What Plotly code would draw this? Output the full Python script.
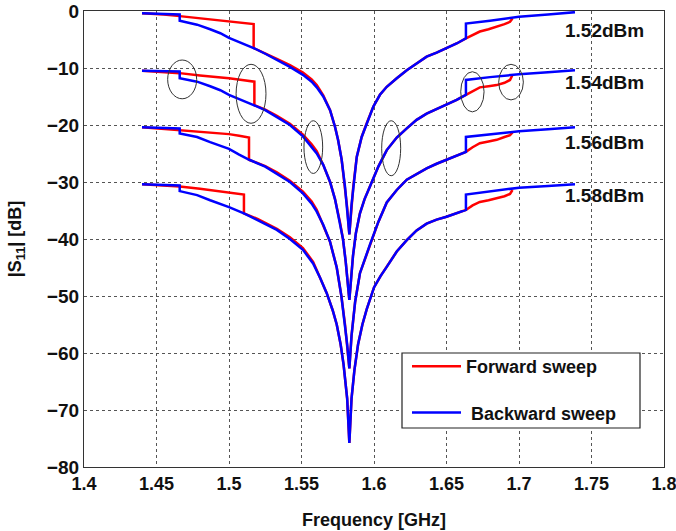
import plotly.graph_objects as go

# Sweep power levels (dBm) for the four measured curve pairs
power_labels = ["1.52dBm", "1.54dBm", "1.56dBm", "1.58dBm"]
label_y = [-3.5, -12.5, -23.1, -32.4]

# Backward sweep (blue) |S11|: frequency [GHz] and magnitude [dB]
bwd_f1 = [1.44, 1.455, 1.466, 1.466, 1.472, 1.478, 1.487, 1.494, 1.50, 1.509, 1.517, 1.525, 1.533, 1.542,
          1.551, 1.557, 1.5605, 1.565, 1.5697, 1.5731, 1.5752, 1.5777, 1.580, 1.5815, 1.583,
          1.5845, 1.5857, 1.5881, 1.5915, 1.595, 1.5995, 1.6041, 1.6088, 1.6157, 1.6226, 1.6294, 1.6363,
          1.6432, 1.65, 1.657, 1.6634, 1.6634, 1.68, 1.70, 1.72, 1.7386]
bwd_s1 = [-0.4, -0.5, -0.6, -1.7, -2.0, -2.4, -3.2, -3.9, -4.7, -5.6, -6.5, -7.5, -8.6, -9.8,
          -11.2, -12.4, -13.4, -15.0, -17.4, -20.3, -22.6, -26.1, -30.8, -34.5, -39.2,
          -34.0, -30.8, -25.6, -22.1, -19.7, -16.8, -14.7, -13.3, -11.8, -10.4, -9.2, -8.0,
          -7.3, -6.5, -5.7, -4.8, -2.2, -1.7, -1.0, -0.6, -0.2]

bwd_f2 = [1.44, 1.455, 1.466, 1.466, 1.472, 1.478, 1.487, 1.494, 1.50, 1.509, 1.517, 1.525, 1.533, 1.542,
          1.551, 1.557, 1.5605, 1.565, 1.5697, 1.5731, 1.5765, 1.5786, 1.5805, 1.583,
          1.5855, 1.5875, 1.5903, 1.5935, 1.5972, 1.603, 1.6088, 1.6157, 1.6226, 1.6294, 1.6363,
          1.6432, 1.65, 1.657, 1.6634, 1.6634, 1.68, 1.70, 1.72, 1.7386]
bwd_s2 = [-10.5, -10.55, -10.6, -11.8, -12.1, -12.4, -13.2, -13.9, -14.7, -15.6, -16.5, -17.4, -18.6, -20.0,
          -22.0, -23.8, -25.0, -27.0, -30.0, -33.0, -37.0, -40.0, -44.0, -50.7,
          -43.0, -39.0, -35.5, -33.0, -30.8, -27.3, -24.4, -22.2, -20.6, -19.1, -18.0,
          -17.2, -16.5, -15.6, -14.7, -12.1, -11.6, -11.1, -10.75, -10.4]

bwd_f3 = [1.44, 1.455, 1.466, 1.466, 1.472, 1.478, 1.487, 1.494, 1.50, 1.507, 1.514, 1.525, 1.533, 1.542,
          1.551, 1.557, 1.5605, 1.565, 1.5697, 1.5743, 1.5775, 1.580, 1.5815, 1.583,
          1.5845, 1.587, 1.5903, 1.5972, 1.603, 1.6088, 1.6157, 1.6226, 1.6294, 1.6363,
          1.6432, 1.65, 1.657, 1.6634, 1.6634, 1.68, 1.70, 1.72, 1.7386]
bwd_s3 = [-20.4, -20.5, -20.6, -21.5, -21.8, -22.1, -23.0, -23.6, -24.2, -25.2, -26.1, -27.3, -28.5, -30.0,
          -32.0, -33.8, -35.2, -37.5, -40.5, -45.0, -50.0, -55.0, -58.5, -62.7,
          -57.0, -51.0, -46.0, -41.0, -37.0, -33.6, -31.4, -29.6, -28.6, -27.6,
          -26.8, -26.1, -25.4, -24.7, -22.1, -21.6, -21.1, -20.75, -20.4]

bwd_f4 = [1.44, 1.455, 1.466, 1.466, 1.472, 1.478, 1.487, 1.494, 1.50, 1.5103, 1.52, 1.533, 1.542,
          1.551, 1.558, 1.5628, 1.5674, 1.5715, 1.5743, 1.577, 1.579, 1.5815, 1.583,
          1.5845, 1.5865, 1.589, 1.592, 1.595, 1.60, 1.6045, 1.6088, 1.6157, 1.6226, 1.6294, 1.6363,
          1.6432, 1.65, 1.657, 1.6634, 1.6634, 1.68, 1.70, 1.72, 1.7386]
bwd_s4 = [-30.4, -30.5, -30.6, -31.6, -31.9, -32.3, -33.2, -33.8, -34.4, -35.5, -36.7, -38.4, -40.0,
          -41.9, -44.3, -46.8, -49.5, -52.5, -55.0, -58.5, -62.0, -68.0, -75.8,
          -68.0, -63.0, -58.5, -55.0, -52.3, -48.5, -46.5, -44.9, -42.2, -40.2, -38.5, -37.3,
          -36.6, -36.1, -35.5, -34.9, -32.2, -31.7, -31.0, -30.7, -30.4]

# Forward sweep (red): upper branch before the jump down, then the shared trace
fwd_left_f1 = [1.44, 1.455, 1.466, 1.48, 1.49, 1.50, 1.509, 1.517, 1.517, 1.525, 1.533, 1.542, 1.551, 1.557, 1.5605, 1.565]
fwd_left_s1 = [-0.4, -0.6, -0.9, -1.3, -1.6, -1.9, -2.1, -2.3, -6.5, -7.4, -8.4, -9.5, -10.8, -12.0, -13.0, -14.8]
fwd_left_f2 = [1.44, 1.455, 1.466, 1.48, 1.49, 1.50, 1.509, 1.5175, 1.5175, 1.525, 1.533, 1.542, 1.551, 1.557, 1.5605]
fwd_left_s2 = [-10.5, -10.7, -10.9, -11.3, -11.5, -11.8, -12.1, -12.4, -16.5, -17.3, -18.4, -19.8, -21.7, -23.4, -24.6]
fwd_left_f3 = [1.44, 1.455, 1.466, 1.48, 1.49, 1.50, 1.507, 1.5138, 1.5138, 1.525, 1.533, 1.542, 1.551, 1.557, 1.5605]
fwd_left_s3 = [-20.4, -20.7, -20.9, -21.2, -21.4, -21.6, -21.9, -22.2, -26.1, -27.2, -28.3, -29.8, -31.7, -33.4, -34.9]
fwd_left_f4 = [1.44, 1.455, 1.466, 1.48, 1.49, 1.50, 1.5103, 1.5103, 1.52, 1.533, 1.542, 1.551, 1.558]
fwd_left_s4 = [-30.4, -30.6, -30.8, -31.2, -31.5, -31.9, -32.2, -35.5, -36.5, -38.2, -39.7, -41.6, -44.0]

# Forward sweep (red): lower branch continuing past the backward jump
fwd_right_f = [1.668, 1.673, 1.679, 1.6846, 1.69, 1.6938, 1.6955]
fwd_right_s1 = [-4.2, -3.6, -3.2, -2.8, -2.3, -1.9, -1.3]
fwd_right_s2 = [-14.1, -13.4, -13.2, -13.0, -12.6, -12.1, -11.2]
fwd_right_s3 = [-23.9, -23.2, -22.9, -22.6, -22.1, -21.8, -21.3]
fwd_right_s4 = [-34.1, -33.5, -33.2, -32.9, -32.5, -32.1, -31.4]

# Hysteresis regions circled on the plot: (f0, f1, dB0, dB1)
ellipses = [
    (1.4577, 1.4777, -8.6, -15.4),
    (1.5049, 1.5255, -9.35, -19.7),
    (1.5517, 1.5646, -19.25, -28.5),
    (1.6053, 1.6184, -19.25, -28.9),
    (1.6598, 1.6759, -10.65, -17.7),
    (1.686, 1.703, -9.35, -15.6),
]

RED = "#ff0000"
BLUE = "#0000ff"
FONT = "Liberation Sans, Arial, sans-serif"
TXT = "#111111"
JUMP_F = 1.6634  # frequency of the backward-sweep jump


def forward_trace(left_f, left_s, bf, bs, right_s):
    """Upper forward branch, then the shared backward points up to the jump, then the forward tail."""
    f, s = list(left_f), list(left_s)
    for fi, si in zip(bf, bs):
        if fi > left_f[-1]:
            f.append(fi)
            s.append(si)
            if fi >= JUMP_F:
                break
    return f + fwd_right_f, s + list(right_s)


bwd = [(bwd_f1, bwd_s1), (bwd_f2, bwd_s2), (bwd_f3, bwd_s3), (bwd_f4, bwd_s4)]
fwd_left = [(fwd_left_f1, fwd_left_s1), (fwd_left_f2, fwd_left_s2),
            (fwd_left_f3, fwd_left_s3), (fwd_left_f4, fwd_left_s4)]
fwd_right = [fwd_right_s1, fwd_right_s2, fwd_right_s3, fwd_right_s4]

fig = go.Figure()

for i in range(4):
    f, s = forward_trace(*fwd_left[i], *bwd[i], fwd_right[i])
    fig.add_trace(go.Scatter(x=f, y=s, mode="lines", line=dict(color=RED, width=2.5),
                             name="Forward sweep", legendgroup="fwd", showlegend=(i == 0)))
for i, (f, s) in enumerate(bwd):
    fig.add_trace(go.Scatter(x=f, y=s, mode="lines", line=dict(color=BLUE, width=2.5),
                             name=" Backward sweep", legendgroup="bwd", showlegend=(i == 0)))

for (x0, x1, y0, y1) in ellipses:
    fig.add_shape(type="circle", xref="x", yref="y", x0=x0, x1=x1, y0=y0, y1=y1,
                  line=dict(color="#333333", width=1))

for lab, yv in zip(power_labels, label_y):
    fig.add_annotation(x=1.7593, y=yv, text=lab, showarrow=False,
                       font=dict(family=FONT, size=19, color=TXT, weight="bold"))

# Legend frame
fig.add_shape(type="rect", xref="paper", yref="paper",
              x0=(402 - 84) / 580, x1=(640 - 84) / 580,
              y0=(467 - 428) / 456, y1=(467 - 353) / 456,
              line=dict(color="#222222", width=1.2), fillcolor="white", layer="above")

axis_common = dict(showline=True, linecolor="#333333", linewidth=1.2, mirror=True, automargin=False,
                   showgrid=True, gridcolor="#555555", gridwidth=1, griddash="3px,3px",
                   zeroline=False, ticks="", tickfont=dict(family=FONT, size=18, color=TXT, weight="bold"))

fig.update_xaxes(range=[1.4, 1.8], tickvals=[1.4, 1.45, 1.5, 1.55, 1.6, 1.65, 1.7, 1.75, 1.8],
                 ticktext=["1.4", "1.45", "1.5", "1.55", "1.6", "1.65", "1.7", "1.75", "1.8"],
                 ticklabeloverflow="allow",
                 title=dict(text="Frequency [GHz]", font=dict(family=FONT, size=18, color=TXT, weight="bold"),
                            standoff=20),
                 **axis_common)
fig.update_yaxes(range=[-80, 0], tickvals=list(range(-80, 1, 10)),
                 tickfont=dict(family=FONT, size=19, color=TXT, weight="bold"),
                 title=dict(text="|S<sub>11</sub>| [dB]", font=dict(family=FONT, size=18, color=TXT, weight="bold"),
                            standoff=20),
                 **{k: v for k, v in axis_common.items() if k != "tickfont"})

fig.update_layout(
    width=676, height=531,
    margin=dict(l=84, r=12, t=11, b=64),
    paper_bgcolor="white", plot_bgcolor="white",
    showlegend=True,
    legend=dict(x=(407 - 84) / 580, y=(467 - 348) / 456, xanchor="left", yanchor="top",
                bgcolor="rgba(0,0,0,0)", borderwidth=0, tracegroupgap=20, itemwidth=49,
                font=dict(family=FONT, size=18, color=TXT, weight="bold")),
)

fig.write_html("out.html")
